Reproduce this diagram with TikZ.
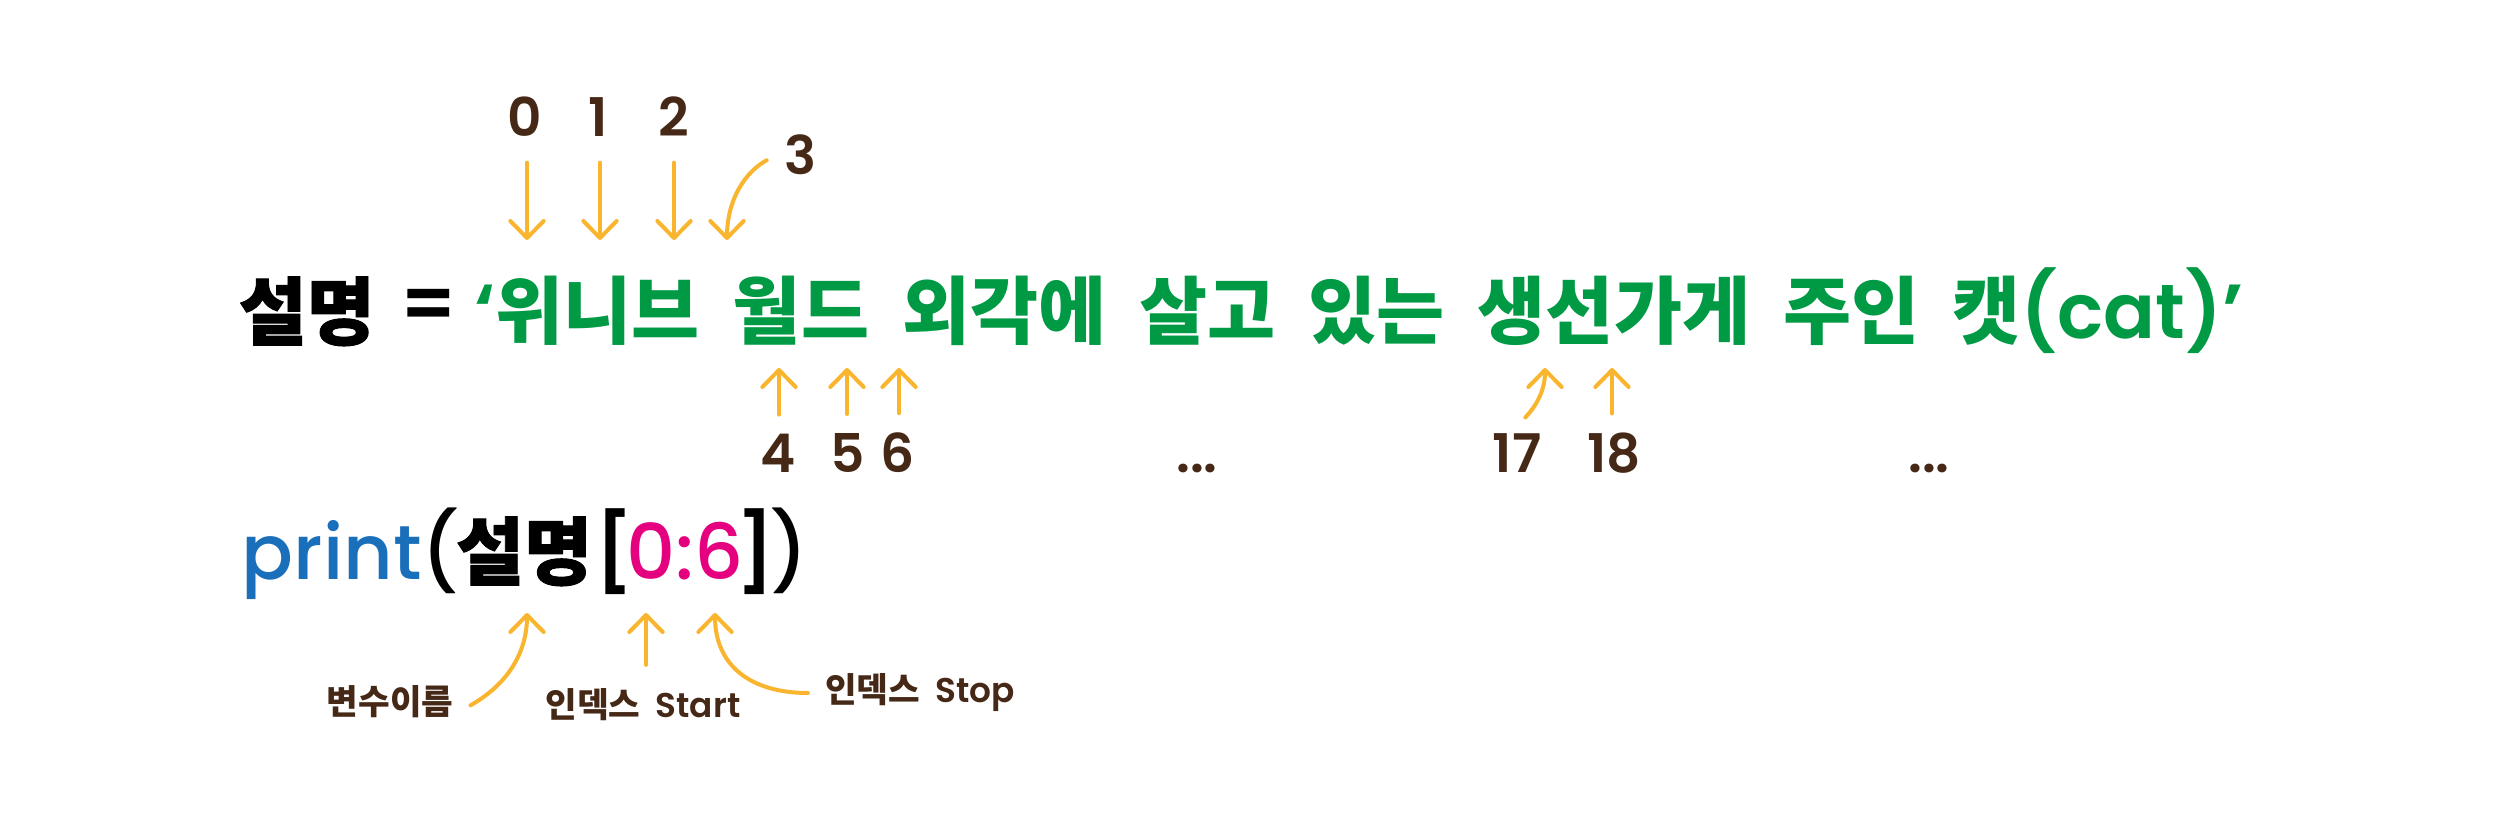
\documentclass[tikz,border=0pt]{standalone}
\usepackage{fontspec}
\usetikzlibrary{arrows.meta}
\newfontfamily\kr{Noto Sans CJK KR}[WordSpace=1.95]
\newfontfamily\krh{Noto Sans CJK KR}[BoldFeatures={FakeBold=1.2}]
\newfontfamily\pop{Poppins}
\newfontfamily\popm{Poppins Medium}
\newfontfamily\popsb{Poppins SemiBold}
\definecolor{arrowc}{HTML}{F9B52D}
\definecolor{brownc}{HTML}{452816}
\definecolor{greenc}{HTML}{009944}
\definecolor{bluec}{HTML}{1A6FBA}
\definecolor{magc}{HTML}{E4007F}
\tikzset{
  arr/.style={draw=arrowc, line width=1.2pt, line cap=round,
    -{Straight Barb[round,length=5.1pt,width=10pt]}},
  idx/.style={inner sep=0pt, anchor=base, text=brownc, font=\popsb\fontsize{16}{16}\selectfont},
  lab/.style={inner sep=0pt, text=brownc, font=\kr\bfseries\fontsize{10.3}{10.3}\selectfont},
  big/.style={inner sep=0pt, anchor=base west, font=\fontsize{22.2}{22.2}\selectfont}
}
\begin{document}
\begin{tikzpicture}[x=0.3pt,y=-0.3pt]
\useasboundingbox (0,0) rectangle (2497,822);
\fill[white] (0,0) rectangle (2497,822);
% main line
\node[big] (var) at (238,339) {\krh\bfseries 설명};
\node[inner sep=0pt, font=\popsb\fontsize{23}{23}\selectfont] (eq) at (429,310) {=};
\node[big, text=greenc] (str) at (474,339) {{\popsb\fontsize{23}{23}\selectfont ‘}{\kr\bfseries 위니브 월드 외각에 살고 있는 생선가게 주인 캣}{\popsb\fontsize{23}{23}\selectfont (cat)’}};
% top indices
\node[idx] (d0) at (525,137) {0};
\node[idx] (d1) at (598,137) {1};
\node[idx] (d2) at (674,137) {2};
\node[idx] (d3) at (800,175) {3};
\coordinate (t0) at (527,240);
\coordinate (t1) at (600,240);
\coordinate (t2) at (674,240);
\coordinate (t3) at (727,240);
\draw[arr, shorten <=7.5pt] (d0.south -| t0) -- (t0);
\draw[arr, shorten <=7.5pt] (d1.south -| t1) -- (t1);
\draw[arr, shorten <=7.5pt] (d2.south -| t2) -- (t2);
\draw[arr] ([xshift=-5pt,yshift=-1.5pt]d3.west) .. controls (745,172) and (727,200) .. (t3);
% bottom indices
\node[idx] (d4) at (778,472) {4};
\node[idx] (d5) at (848,472) {5};
\node[idx] (d6) at (898,472) {6};
\node[idx] (e1) at (1197,472) {...};
\node[idx] (d17) at (1517,472) {17};
\node[idx] (d18) at (1614,472) {18};
\node[idx] (e2) at (1929,472) {...};
\coordinate (t4) at (779,368);
\coordinate (t5) at (847,368);
\coordinate (t6) at (899,368);
\coordinate (t17) at (1545,368);
\coordinate (t18) at (1612,368);
\draw[arr, shorten <=5.5pt] (d4.north -| t4) -- (t4);
\draw[arr, shorten <=5.5pt] (d5.north -| t5) -- (t5);
\draw[arr, shorten <=5.5pt] (d6.north -| t6) -- (t6);
\draw[arr] ([xshift=2.5pt,yshift=4.5pt]d17.north) .. controls (1537,405) and (1545,390) .. (t17);
\draw[arr, shorten <=5.5pt] (d18.north -| t18) -- (t18);
% print line
\node[big] (pr) at (241,579) {{\popm\fontsize{23}{23}\selectfont\color{bluec}print}{\popm\fontsize{23}{23}\selectfont (}\kern-1pt{\krh\bfseries 설명}\kern1pt{\popsb\fontsize{23}{23}\selectfont [}\kern-2.2pt{\popm\fontsize{23}{23}\selectfont\color{magc}0:6}\kern-2.2pt{\popsb\fontsize{23}{23}\selectfont ]}\kern-1pt{\popm\fontsize{23}{23}\selectfont )}};
\node[lab] (l1) at (390,702) {변수이름};
\node[lab] (l2) at (643,705) {인덱스 {\popsb\mdseries Start}};
\node[lab] (l3) at (920,693) {인덱스 {\popsb\mdseries Stop}};
\coordinate (p1) at (527,613);
\coordinate (p2) at (646,613);
\coordinate (p3) at (715,613);
\draw[arr] ([xshift=5pt,yshift=-1pt]l1.east) .. controls (510,683) and (527,650) .. (p1);
\draw[arr, shorten <=7pt] (l2.north -| p2) -- (p2);
\draw[arr] ([xshift=-5pt]l3.west) .. controls (750,693) and (715,665) .. (p3);
\end{tikzpicture}
\end{document}
